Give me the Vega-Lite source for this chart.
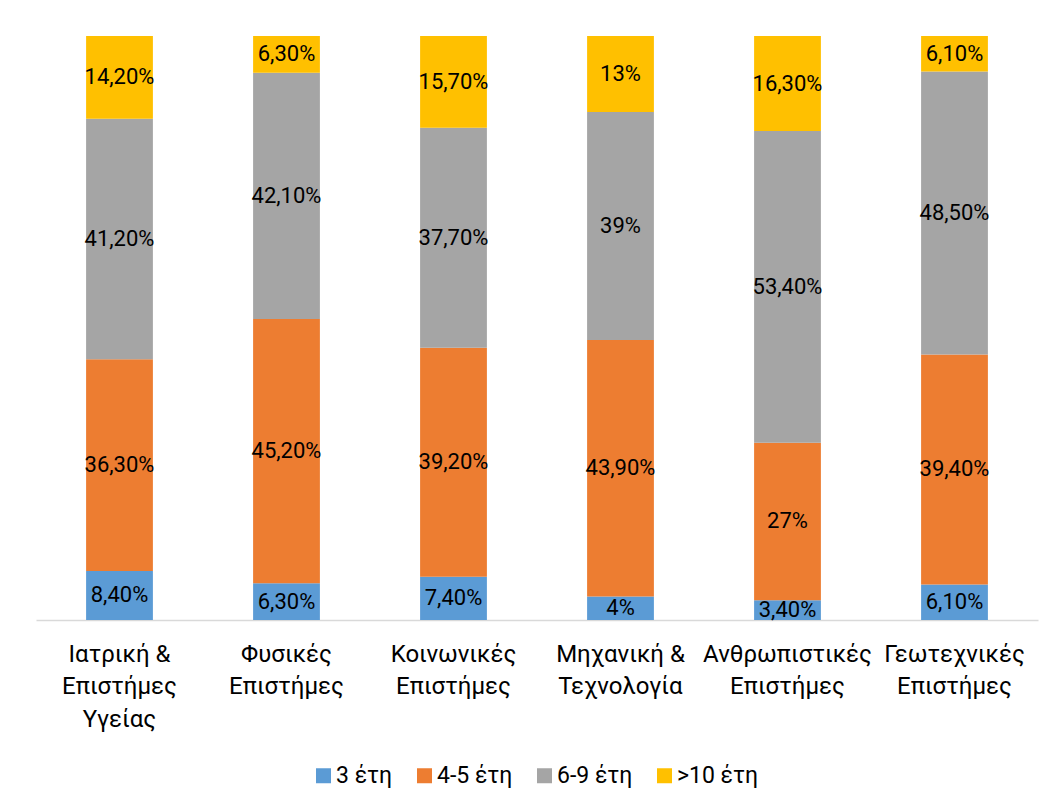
{
  "$schema": "https://vega.github.io/schema/vega-lite/v6.json",
  "width": 1002,
  "height": 584,
  "autosize": {"type": "none"},
  "padding": {"left": 36, "top": 36, "right": 18, "bottom": 190},
  "background": "white",
  "config": {"view": {"stroke": null}, "font": "Roboto"},
  "data": {
    "values": [
      {"field": "Ιατρική &\nΕπιστήμες\nΥγείας", "series": "3 έτη", "k": 1, "value": 8.4, "label": "8,40%"},
      {"field": "Ιατρική &\nΕπιστήμες\nΥγείας", "series": "4-5 έτη", "k": 2, "value": 36.3, "label": "36,30%"},
      {"field": "Ιατρική &\nΕπιστήμες\nΥγείας", "series": "6-9 έτη", "k": 3, "value": 41.2, "label": "41,20%"},
      {"field": "Ιατρική &\nΕπιστήμες\nΥγείας", "series": ">10 έτη", "k": 4, "value": 14.2, "label": "14,20%"},
      {"field": "Φυσικές\nΕπιστήμες", "series": "3 έτη", "k": 1, "value": 6.3, "label": "6,30%"},
      {"field": "Φυσικές\nΕπιστήμες", "series": "4-5 έτη", "k": 2, "value": 45.2, "label": "45,20%"},
      {"field": "Φυσικές\nΕπιστήμες", "series": "6-9 έτη", "k": 3, "value": 42.1, "label": "42,10%"},
      {"field": "Φυσικές\nΕπιστήμες", "series": ">10 έτη", "k": 4, "value": 6.3, "label": "6,30%"},
      {"field": "Κοινωνικές\nΕπιστήμες", "series": "3 έτη", "k": 1, "value": 7.4, "label": "7,40%"},
      {"field": "Κοινωνικές\nΕπιστήμες", "series": "4-5 έτη", "k": 2, "value": 39.2, "label": "39,20%"},
      {"field": "Κοινωνικές\nΕπιστήμες", "series": "6-9 έτη", "k": 3, "value": 37.7, "label": "37,70%"},
      {"field": "Κοινωνικές\nΕπιστήμες", "series": ">10 έτη", "k": 4, "value": 15.7, "label": "15,70%"},
      {"field": "Μηχανική &\nΤεχνολογία", "series": "3 έτη", "k": 1, "value": 4, "label": "4%"},
      {"field": "Μηχανική &\nΤεχνολογία", "series": "4-5 έτη", "k": 2, "value": 43.9, "label": "43,90%"},
      {"field": "Μηχανική &\nΤεχνολογία", "series": "6-9 έτη", "k": 3, "value": 39, "label": "39%"},
      {"field": "Μηχανική &\nΤεχνολογία", "series": ">10 έτη", "k": 4, "value": 13, "label": "13%"},
      {"field": "Ανθρωπιστικές\nΕπιστήμες", "series": "3 έτη", "k": 1, "value": 3.4, "label": "3,40%"},
      {"field": "Ανθρωπιστικές\nΕπιστήμες", "series": "4-5 έτη", "k": 2, "value": 27, "label": "27%"},
      {"field": "Ανθρωπιστικές\nΕπιστήμες", "series": "6-9 έτη", "k": 3, "value": 53.4, "label": "53,40%"},
      {"field": "Ανθρωπιστικές\nΕπιστήμες", "series": ">10 έτη", "k": 4, "value": 16.3, "label": "16,30%"},
      {"field": "Γεωτεχνικές\nΕπιστήμες", "series": "3 έτη", "k": 1, "value": 6.1, "label": "6,10%"},
      {"field": "Γεωτεχνικές\nΕπιστήμες", "series": "4-5 έτη", "k": 2, "value": 39.4, "label": "39,40%"},
      {"field": "Γεωτεχνικές\nΕπιστήμες", "series": "6-9 έτη", "k": 3, "value": 48.5, "label": "48,50%"},
      {"field": "Γεωτεχνικές\nΕπιστήμες", "series": ">10 έτη", "k": 4, "value": 6.1, "label": "6,10%"}
    ]
  },
  "transform": [
    {"stack": "value", "groupby": ["field"], "sort": [{"field": "k", "order": "ascending"}], "offset": "normalize", "as": ["y0", "y1"]},
    {"calculate": "(datum.y0 + datum.y1) / 2", "as": "ymid"}
  ],
  "encoding": {
    "x": {
      "field": "field",
      "type": "nominal",
      "sort": null,
      "scale": {"paddingInner": 0.6, "paddingOuter": 0.3},
      "axis": {
        "title": null,
        "labelAngle": 0,
        "ticks": false,
        "grid": false,
        "domainColor": "#d9d9d9",
        "domainWidth": 1.5,
        "labelFont": "Roboto",
        "labelFontSize": 24,
        "labelColor": "black",
        "labelLineHeight": 32.5,
        "labelPadding": 22,
        "labelBaseline": "top",
        "labelLimit": 0,
        "labelExpr": "split(datum.label, '\\n')"
      }
    }
  },
  "layer": [
    {
      "mark": {"type": "bar"},
      "encoding": {
        "y": {"field": "y0", "type": "quantitative", "scale": {"domain": [0, 1], "nice": false}, "axis": null},
        "y2": {"field": "y1"},
        "color": {
          "field": "series",
          "type": "nominal",
          "scale": {"domain": ["3 έτη", "4-5 έτη", "6-9 έτη", ">10 έτη"], "range": ["#5B9BD5", "#ED7D31", "#A5A5A5", "#FFC000"]},
          "legend": {
            "orient": "none",
            "legendX": 276,
            "legendY": 728,
            "direction": "horizontal",
            "title": null,
            "symbolType": "square",
            "symbolSize": 225,
            "symbolStrokeWidth": 0,
            "labelFont": "Roboto",
            "labelFontSize": 23,
            "labelColor": "black",
            "labelOffset": 1,
            "columnPadding": 20,
            "padding": 0
          }
        }
      }
    },
    {
      "mark": {"type": "text", "fontSize": 22, "font": "Roboto", "color": "black", "baseline": "middle", "align": "center"},
      "encoding": {
        "y": {"field": "ymid", "type": "quantitative"},
        "text": {"field": "label"}
      }
    }
  ]
}
